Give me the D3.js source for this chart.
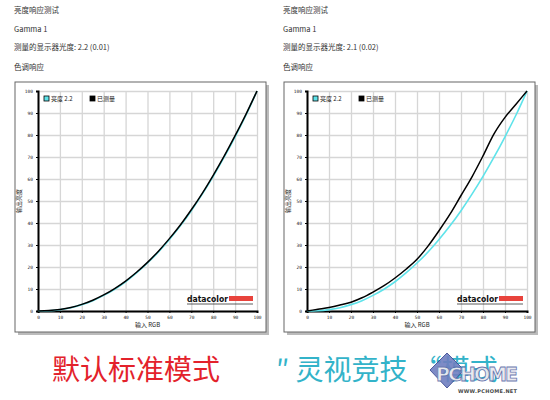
<!DOCTYPE html>
<html>
<head>
<meta charset="utf-8">
<script src="https://cdn.jsdelivr.net/npm/d3@7"></script>
<style>
body { margin:0; background:#fff; }
svg { display:block; }
</style>
</head>
<body>
<svg id="chart" width="550" height="400"></svg>
<script>
// input RGB, steps of 5
var inputs = [0,5,10,15,20,25,30,35,40,45,50,55,60,65,70,75,80,85,90,95,100];
// reference curve, gamma 2.2
var target = [0,0.14,0.63,1.5,2.9,4.7,7.1,9.9,13.3,17.3,21.8,26.8,32.5,38.7,45.6,53.1,61.2,69.9,79.2,89.1,100];
// measured, default standard mode
var measuredStd = [0,0.2,0.7,1.6,3.0,4.9,7.3,10.2,13.6,17.6,22.1,27.2,32.9,39.1,46.0,53.5,61.7,70.4,79.7,89.5,100];
// measured, gaming mode
var measuredGame = [0,0.8,1.6,2.7,4.0,6.0,8.6,11.5,15.0,19.0,23.5,29.5,36.5,44.0,52.5,61.0,70.5,80.5,88.0,94.0,100];
var ticks = [0,10,20,30,40,50,60,70,80,90,100];

var headerStd = ["亮度响应测试","Gamma 1","测量的显示器光度:  2.2 (0.01)","色调响应"];
var headerGame = ["亮度响应测试","Gamma 1","测量的显示器光度:  2.1 (0.02)","色调响应"];
var legendLabels = ["亮度 2.2","已测量"];
var captions = ["默认标准模式","″ 灵视竞技 “模式"];

var svg = d3.select("#chart");
var smallFont = "'Noto Sans CJK SC', sans-serif";

var makePanel = function(measured, header, dim) {

	var g = svg.append("g");

	// header lines
	g.selectAll("text.hdr")
	.data(header)
	.enter().append("text")
	.attr("class","hdr")
	.attr("x", dim.hx)
	.attr("y", function(d, i) { return [13,32,50,70][i]; })
	.attr("font-family", smallFont)
	.attr("font-size", 7.5)
	.attr("fill", "#333")
	.text(function(d) { return d; });

	// outer frame with shadow
	g.append("rect")
	.attr("x", dim.bx + 3).attr("y", dim.by + 3)
	.attr("width", dim.bw).attr("height", dim.bh)
	.attr("fill", "#bbb");
	g.append("rect")
	.attr("x", dim.bx).attr("y", dim.by)
	.attr("width", dim.bw).attr("height", dim.bh)
	.attr("fill", "#fff")
	.attr("stroke", "#666");

	var x = d3.scaleLinear().domain([0,100]).range([dim.left, dim.right]);
	var y = d3.scaleLinear().domain([0,100]).range([dim.bottom, dim.top]);

	// gridlines
	g.append("g")
	.attr("transform", "translate(0," + dim.bottom + ")")
	.call(d3.axisBottom(x).tickValues(ticks).tickSize(-(dim.bottom - dim.top)).tickFormat(""))
	.call(function(s) { s.select(".domain").remove(); })
	.selectAll("line").attr("stroke", "#d6d6d6").attr("stroke-width", 1.3);
	g.append("g")
	.attr("transform", "translate(" + dim.left + ",0)")
	.call(d3.axisLeft(y).tickValues(ticks).tickSize(-(dim.right - dim.left)).tickFormat(""))
	.call(function(s) { s.select(".domain").remove(); })
	.selectAll("line").attr("stroke", "#d6d6d6").attr("stroke-width", 1.3);

	// axes
	var ax = g.append("g")
	.attr("transform", "translate(0," + dim.bottom + ")")
	.call(d3.axisBottom(x).tickValues(ticks).tickSize(2).tickPadding(3));
	var ay = g.append("g")
	.attr("transform", "translate(" + dim.left + ",0)")
	.call(d3.axisLeft(y).tickValues(ticks).tickSize(2).tickPadding(3));
	[ax, ay].forEach(function(a) {
		a.select(".domain").attr("stroke", "#000").attr("stroke-width", 2);
		a.selectAll("text").attr("font-family", "'DejaVu Sans Mono', monospace").attr("font-size", 4.5).attr("fill", "#222");
	});

	// axis titles
	g.append("text")
	.attr("x", (dim.left + dim.right) / 2)
	.attr("y", dim.bottom + 16)
	.attr("text-anchor", "middle")
	.attr("font-family", smallFont)
	.attr("font-size", 6)
	.attr("fill", "#222")
	.text("输入 RGB");
	g.append("text")
	.attr("transform", "translate(" + (dim.left - 17) + "," + ((dim.top + dim.bottom) / 2) + ") rotate(-90)")
	.attr("text-anchor", "middle")
	.attr("font-family", smallFont)
	.attr("font-size", 6)
	.attr("fill", "#222")
	.text("输出亮度");

	var line = d3.line()
	.x(function(d, i) { return x(inputs[i]); })
	.y(function(d) { return y(d); })
	.curve(d3.curveMonotoneX);

	g.append("path")
	.datum(target)
	.attr("d", line)
	.attr("fill", "none")
	.attr("stroke", "#5fe3ea")
	.attr("stroke-width", 1.6);
	g.append("path")
	.datum(measured)
	.attr("d", line)
	.attr("fill", "none")
	.attr("stroke", "#000")
	.attr("stroke-width", 1.5);

	// legend
	var legend = g.append("g")
	.selectAll("g")
	.data(legendLabels)
	.enter().append("g")
	.attr("transform", function(d, i) {
		return "translate(" + (dim.left + 6 + i * 46) + "," + (dim.top + 8) + ")";
	});
	legend.append("rect")
	.attr("x", 0).attr("y", -3)
	.attr("width", 5).attr("height", 5)
	.attr("fill", function(d, i) { return i ? "#000" : "#5fe3ea"; })
	.attr("stroke", "#000")
	.attr("stroke-width", 0.8);
	legend.append("text")
	.attr("x", 7)
	.attr("y", 2)
	.attr("font-family", smallFont)
	.attr("font-size", 6)
	.attr("fill", "#222")
	.text(function(d) { return d; });

	// datacolor logo
	var lx = dim.right - 70, ly = dim.bottom - 9;
	g.append("text")
	.attr("x", lx).attr("y", ly)
	.attr("font-family", "'DejaVu Sans', sans-serif")
	.attr("font-weight", "bold")
	.attr("font-size", 8)
	.attr("textLength", 41)
	.attr("lengthAdjust", "spacingAndGlyphs")
	.attr("fill", "#111")
	.text("datacolor");
	g.append("rect")
	.attr("x", lx + 42).attr("y", ly - 6)
	.attr("width", 24).attr("height", 5)
	.attr("fill", "#e8433c");
	g.append("line")
	.attr("x1", lx).attr("x2", lx + 66)
	.attr("y1", ly + 2).attr("y2", ly + 2)
	.attr("stroke", "#333").attr("stroke-width", 0.8);
};

makePanel(measuredStd, headerStd, {hx:14, bx:15, by:82, bw:251, bh:250, left:38, right:257, top:91, bottom:311});
makePanel(measuredGame, headerGame, {hx:283, bx:284, by:82, bw:251, bh:250, left:307, right:527, top:91, bottom:311});

// captions
svg.append("text")
.attr("x", 52).attr("y", 380)
.attr("font-family", "'Noto Sans CJK SC', sans-serif")
.attr("font-size", 28)
.attr("fill", "#e3222b")
.text(captions[0]);
svg.append("text")
.attr("x", 276).attr("y", 380)
.attr("font-family", "'Noto Sans CJK SC', sans-serif")
.attr("font-size", 28)
.attr("fill", "#33b3c9")
.text(captions[1]);

// watermark
var wm = svg.append("g").attr("opacity", 0.9);
wm.append("path")
.attr("d", "M447,353 L464,370 L447,388 L430,370 Z")
.attr("fill", "#6f7fc0")
.attr("stroke", "#3b4a93");
wm.append("text")
.attr("x", 436).attr("y", 381)
.attr("font-family", "'DejaVu Sans', sans-serif")
.attr("font-weight", "bold")
.attr("font-size", 19)
.attr("textLength", 82)
.attr("fill", "#e8e8ee")
.attr("stroke", "#5a6aa8")
.attr("stroke-width", 0.8)
.text("PCHOME");
wm.append("text")
.attr("x", 458).attr("y", 393)
.attr("font-family", "'DejaVu Sans', sans-serif")
.attr("font-weight", "bold")
.attr("font-size", 5)
.attr("textLength", 59)
.attr("fill", "#333")
.text("WWW.PCHOME.NET");
</script>
</body>
</html>
